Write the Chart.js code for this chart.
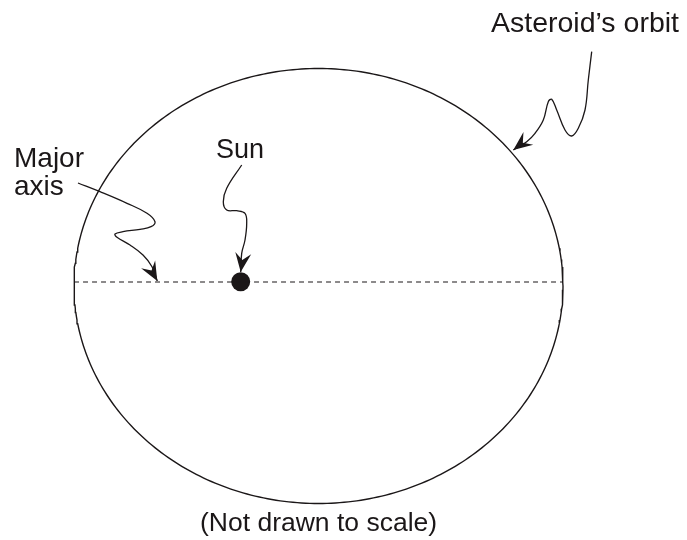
<!DOCTYPE html>
<html lang="en">
<head>
<meta charset="UTF-8">
<title>Asteroid's orbit</title>
<style>
  html, body { margin: 0; padding: 0; background: #fff; }
  #wrap { width: 687px; height: 540px; }
</style>
</head>
<body>
<div id="wrap"><canvas id="orbitCanvas" width="687" height="540"></canvas></div>

<script src="https://cdn.jsdelivr.net/npm/chart.js@4/dist/chart.umd.min.js"></script>
<script>
// everything is in figure units (same as the 687x540 picture, y going down)
const orbitCenter = [318.5, 286];
const orbitRadii = [244.5, 217.5];
const majorAxisY = 282;
const sunPos = [240.7, 281.7];

// curly pointer lines
const majorArrowX = [78, 100, 127, 147, 155, 151, 140, 123, 115, 117, 130, 143, 152, 157.3];
const majorArrowY = [183, 191.7, 203.3, 213.3, 221.7, 226.7, 229.3, 231.7, 234, 237.3, 245, 255, 266.7, 281];
const sunArrowX = [241.7, 226.7, 223.3, 226.7, 236.7, 245, 246.7, 245, 241.7, 240.7];
const sunArrowY = [165, 188.3, 201.7, 210, 210.7, 213.3, 223.3, 240, 253.3, 272];
const orbitArrowX = [591.7, 588.3, 585, 578.3, 571.7, 565, 556.7, 551.7, 548.3, 543.3, 535, 526.7, 513.3];
const orbitArrowY = [51.7, 80, 110, 128.3, 136, 130, 110, 99.3, 101.7, 120, 133.3, 141.7, 150];

// text labels
const labelText = ['Asteroid\u2019s orbit', 'Major', 'axis', 'Sun', '(Not drawn to scale)'];
const labelX = [491, 14, 14, 216, 200];
const labelY = [32, 167, 195, 158, 531];
const labelSize = [28.5, 28, 28, 27, 26.5];

const ink = '#1b1718';

function zipPts(xs, ys) {
  return xs.map((x, i) => ({ x: x, y: ys[i] }));
}

function ellipsePts() {
  let pts = [];
  for (let i = 0; i <= 360; i++) {
    let t = i * Math.PI / 180;
    pts.push({ x: orbitCenter[0] + orbitRadii[0] * Math.cos(t), y: orbitCenter[1] + orbitRadii[1] * Math.sin(t) });
  }
  return pts;
}

function axisEnds() {
  let dy = (majorAxisY - orbitCenter[1]) / orbitRadii[1];
  let half = orbitRadii[0] * Math.sqrt(1 - dy * dy);
  return [{ x: orbitCenter[0] - half, y: majorAxisY }, { x: orbitCenter[0] + half, y: majorAxisY }];
}

// arrow heads at the end of the pointer lines + the text labels
const diagramPlugin = {
  id: 'diagram',
  afterDatasetsDraw(chart) {
    const ctx = chart.ctx;
    const xs = chart.scales.x, ys = chart.scales.y;
    chart.data.datasets.forEach(ds => {
      if (!ds.arrow) return;
      let n = ds.data.length;
      let a = ds.data[n - 3], b = ds.data[n - 1];
      let bx = xs.getPixelForValue(b.x), by = ys.getPixelForValue(b.y);
      let ang = Math.atan2(by - ys.getPixelForValue(a.y), bx - xs.getPixelForValue(a.x));
      ctx.save();
      ctx.translate(bx, by);
      ctx.rotate(ang);
      ctx.fillStyle = ink;
      ctx.beginPath();
      ctx.moveTo(0, 0);
      ctx.lineTo(-19, -8);
      ctx.lineTo(-12, 0);
      ctx.lineTo(-19, 8);
      ctx.closePath();
      ctx.fill();
      ctx.restore();
    });

    ctx.save();
    ctx.fillStyle = ink;
    ctx.textAlign = 'left';
    ctx.textBaseline = 'alphabetic';
    labelText.forEach((t, i) => {
      ctx.font = labelSize[i] + 'px "Liberation Sans", Arial, sans-serif';
      ctx.fillText(t, xs.getPixelForValue(labelX[i]), ys.getPixelForValue(labelY[i]));
    });
    ctx.restore();
  }
};

const lineBase = { showLine: true, pointRadius: 0, borderColor: ink, fill: false };

new Chart(document.getElementById('orbitCanvas').getContext('2d'), {
  type: 'scatter',
  data: {
    datasets: [
      Object.assign({}, lineBase, { label: 'orbit', data: ellipsePts(), borderWidth: 1.4, tension: 0 }),
      Object.assign({}, lineBase, { label: 'major axis', data: axisEnds(), borderWidth: 1.2, borderDash: [5, 4] }),
      Object.assign({}, lineBase, { label: 'to axis', data: zipPts(majorArrowX, majorArrowY), borderWidth: 1.3, tension: 0.4, arrow: true }),
      Object.assign({}, lineBase, { label: 'to sun', data: zipPts(sunArrowX, sunArrowY), borderWidth: 1.3, tension: 0.4, arrow: true }),
      Object.assign({}, lineBase, { label: 'to orbit', data: zipPts(orbitArrowX, orbitArrowY), borderWidth: 1.3, tension: 0.4, arrow: true }),
      { label: 'sun', data: [{ x: sunPos[0], y: sunPos[1] }], showLine: false, pointRadius: 9.5, pointHoverRadius: 9.5,
        backgroundColor: ink, borderColor: ink, borderWidth: 0 }
    ]
  },
  options: {
    responsive: false,
    animation: false,
    layout: { padding: 0, autoPadding: false },
    plugins: { legend: { display: false }, tooltip: { enabled: false } },
    events: [],
    scales: {
      x: { type: 'linear', min: 0, max: 687, display: false },
      y: { type: 'linear', min: 0, max: 540, reverse: true, display: false }
    }
  },
  plugins: [diagramPlugin]
});
</script>
</body>
</html>
